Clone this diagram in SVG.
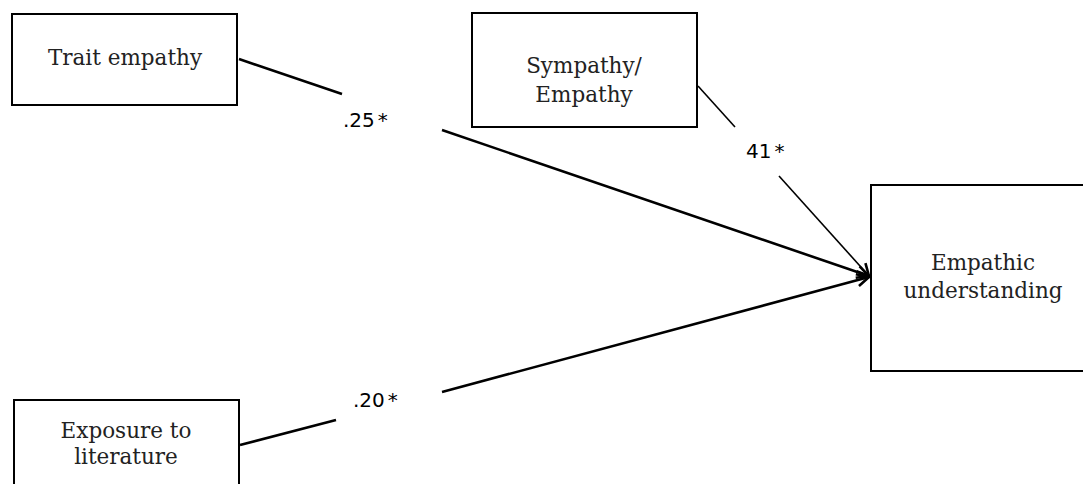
<svg xmlns="http://www.w3.org/2000/svg" width="1083" height="484" viewBox="0 0 1083 484">
<style>
.box{fill:#fff;stroke:#000;stroke-width:2}
.lbl{font-family:"DejaVu Serif","Liberation Serif",serif;font-size:21.5px;fill:#222;text-anchor:middle}
.num{font-family:"DejaVu Sans","Liberation Sans",sans-serif;font-size:20px;fill:#000}
.thick{stroke:#000;stroke-width:2.6;fill:none}
.thin{stroke:#000;stroke-width:1.6;fill:none}
</style>
<defs>
<marker id="arr" markerUnits="userSpaceOnUse" markerWidth="16" markerHeight="16" refX="13" refY="7" orient="auto" viewBox="0 0 16 14">
<path d="M1,1 L13,7 L1,13" fill="none" stroke="#000" stroke-width="2.6"/>
</marker>
</defs>
<rect width="1083" height="484" fill="#fff"/>
<g id="connectors">
<line class="thick" x1="239" y1="59" x2="342" y2="94"/>
<line class="thick" x1="442" y1="130" x2="869" y2="276" marker-end="url(#arr)"/>
<line class="thin" x1="698" y1="86" x2="735" y2="127"/>
<line class="thin" x1="779" y1="176" x2="869" y2="276" marker-end="url(#arr)"/>
<line class="thick" x1="240" y1="445" x2="336" y2="420"/>
<line class="thick" x1="442" y1="392" x2="869" y2="277" marker-end="url(#arr)"/>
<text class="num" x="343" y="127">.25<tspan dx="3">*</tspan></text>
<text class="num" x="746" y="158">41<tspan dx="3">*</tspan></text>
<text class="num" x="353" y="407">.20<tspan dx="3">*</tspan></text>
</g>
<g id="trait">
<rect class="box" x="12" y="14" width="225" height="91"/>
<text class="lbl" x="125" y="65">Trait empathy</text>
</g>
<g id="sympathy">
<rect class="box" x="472" y="13" width="225" height="114"/>
<text class="lbl" x="584" y="73">Sympathy/</text>
<text class="lbl" x="584" y="102">Empathy</text>
</g>
<g id="empathic">
<rect class="box" x="871" y="185" width="220" height="186"/>
<text class="lbl" x="983" y="270">Empathic</text>
<text class="lbl" x="983" y="298">understanding</text>
</g>
<g id="exposure">
<rect class="box" x="14" y="400" width="225" height="100"/>
<text class="lbl" x="126" y="438">Exposure to</text>
<text class="lbl" x="126" y="464">literature</text>
</g>
</svg>
